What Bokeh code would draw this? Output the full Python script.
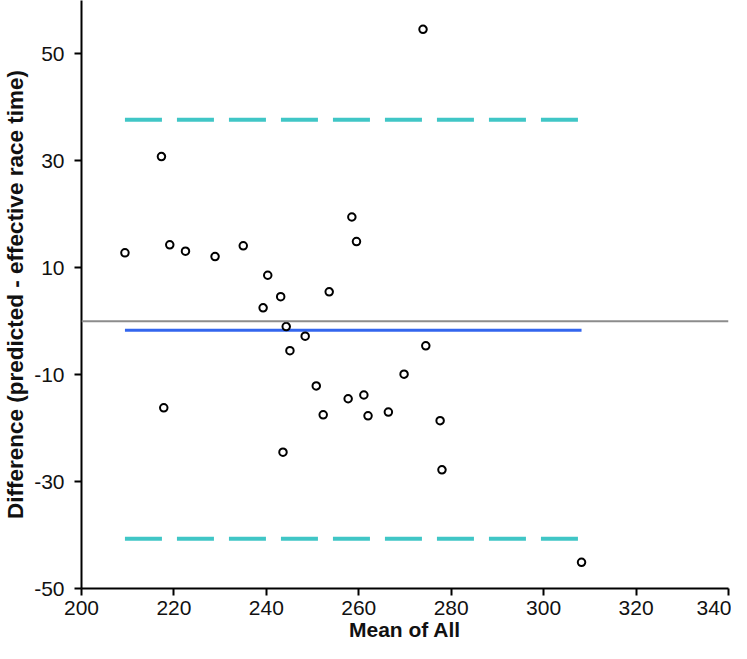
from bokeh.plotting import figure
from bokeh.models import FixedTicker, Span, Range1d
from bokeh.embed import file_html
from bokeh.resources import INLINE

# Data
mean_all = [209.4, 217.3, 217.8, 219.1, 222.5, 228.9, 235.0, 239.3, 240.3, 243.1,
            243.6, 244.3, 245.1, 248.4, 250.8, 252.3, 253.6, 257.7, 258.5, 259.5,
            261.1, 262.0, 266.4, 269.8, 273.9, 274.5, 277.6, 278.0, 308.2]
difference = [12.8, 30.8, -16.2, 14.3, 13.1, 12.1, 14.1, 2.5, 8.6, 4.6,
              -24.5, -1.0, -5.5, -2.8, -12.1, -17.5, 5.5, -14.5, 19.5, 14.9,
              -13.8, -17.7, -17.0, -9.9, 54.6, -4.6, -18.6, -27.8, -45.1]
bias = -1.7
loa_upper = 37.7
loa_lower = -40.7
x_ticks = [200, 220, 240, 260, 280, 300, 320, 340]
y_ticks = [-50, -30, -10, 10, 30, 50]

p = figure(width=731, height=643, output_backend="svg", toolbar_location=None,
           x_range=Range1d(200, 340), y_range=Range1d(-50, 60),
           min_border_left=80, min_border_right=3, min_border_top=0,
           min_border_bottom=50)
p.outline_line_color = None
p.grid.visible = False

# zero line
p.add_layout(Span(location=0, dimension="width", line_color="#8c8c8c", line_width=2))

x_span = [min(mean_all), max(mean_all)]
p.line(x_span, [bias, bias], line_color="#3366ee", line_width=3)
p.line(x_span, [loa_upper, loa_upper], line_color="#40c6c6", line_width=4, line_dash="37 15")
p.line(x_span, [loa_lower, loa_lower], line_color="#40c6c6", line_width=4, line_dash="37 15")

p.scatter(mean_all, difference, marker="circle", size=7.5, fill_color="white",
          line_color="black", line_width=2)

for ax in (p.xaxis[0], p.yaxis[0]):
    ax.axis_line_color = "black"
    ax.axis_line_width = 2
    ax.major_tick_line_color = "black"
    ax.major_tick_line_width = 2
    ax.major_tick_out = 7
    ax.major_tick_in = 0
    ax.minor_tick_line_color = None
    ax.major_label_text_font = "Liberation Sans"
    ax.major_label_text_font_size = "21px"
    ax.major_label_text_color = "#111111"
    ax.axis_label_text_font = "Liberation Sans"
    ax.axis_label_text_font_style = "bold"
    ax.axis_label_text_color = "#111111"

p.xaxis[0].ticker = FixedTicker(ticks=x_ticks)
p.yaxis[0].ticker = FixedTicker(ticks=y_ticks)
p.yaxis[0].major_label_overrides = {t: str(t) for t in y_ticks}
p.xaxis[0].axis_label = "Mean of All"
p.yaxis[0].axis_label = "Difference (predicted - effective race time)"
p.xaxis[0].axis_label_text_font_size = "21px"
p.yaxis[0].axis_label_text_font_size = "22.5px"
p.xaxis[0].major_label_standoff = 5
p.xaxis[0].axis_label_standoff = 0
p.yaxis[0].major_label_standoff = 10
p.yaxis[0].axis_label_standoff = 3

open("out.html", "w").write(file_html(p, INLINE))
